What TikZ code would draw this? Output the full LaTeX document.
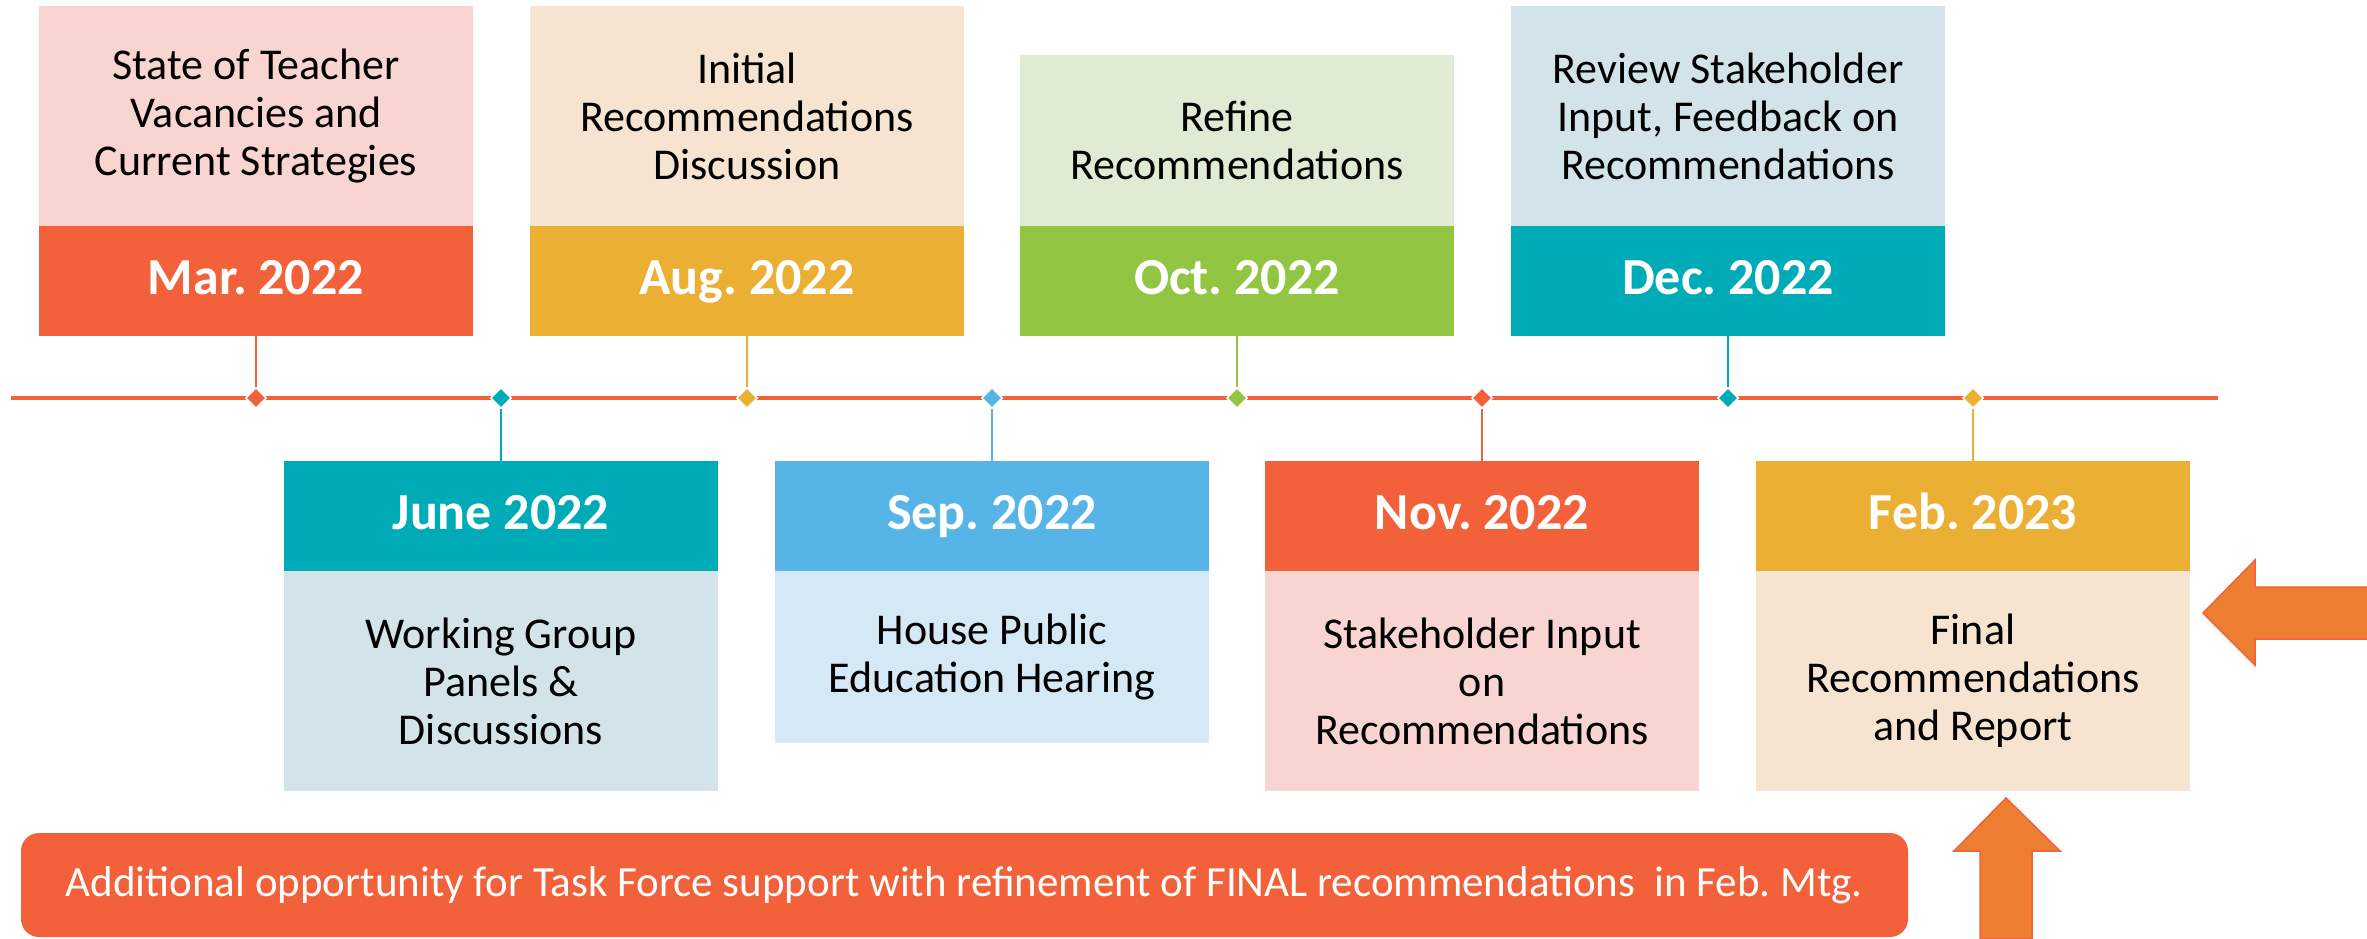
\documentclass[tikz,border=0pt]{standalone}
\usepackage{fontspec}
\setmainfont{Carlito}
\usetikzlibrary{shapes.geometric}
\frenchspacing
\definecolor{cRed}{HTML}{F26139}
\definecolor{cRedL}{HTML}{F8D5D1}
\definecolor{cYel}{HTML}{EBAF33}
\definecolor{cYelL}{HTML}{F7E4D0}
\definecolor{cGrn}{HTML}{92C642}
\definecolor{cGrnL}{HTML}{DFEBD2}
\definecolor{cTeal}{HTML}{00ABB8}
\definecolor{cTealL}{HTML}{D2E4EA}
\definecolor{cBlue}{HTML}{56B4E6}
\definecolor{cBlueL}{HTML}{D5E8F5}
\definecolor{cArrow}{HTML}{ED7D31}
\newcommand{\bodyfnt}{\fontsize{44}{48}\selectfont\frenchspacing}
\newcommand{\datefnt}{\fontsize{52}{56}\selectfont\bfseries\frenchspacing}
\newcommand{\bannerfnt}{\fontsize{43}{48}\selectfont\frenchspacing}
\begin{document}
\begin{tikzpicture}[x=1pt,y=-1pt,
  datebox/.style={minimum width=434, minimum height=110, inner sep=0, font=\datefnt, text=white, text height=33, text depth=6},
  textbox/.style={minimum width=434, inner sep=0, font=\bodyfnt, align=center, text=black},
  dmd/.style={diamond, minimum width=21, minimum height=21, inner sep=0, draw=white, line width=1.5},
  conn/.style={line width=1.5},
  bigarrow/.style={fill=cArrow, draw=cRed, line width=1.5}]
\useasboundingbox (0,0) rectangle (2367,938);
% timeline
\coordinate (tlL) at (11,398);
\coordinate (tlR) at (2218,398);
\draw[cRed, line width=3.5] (tlL) -- (tlR);
% top boxes
\node[datebox, fill=cRed] (marD) at (256,281) {Mar. 2022};
\node[textbox, fill=cRedL, minimum height=220] (marT) at (256,116) {State of Teacher\\Vacancies and\\Current Strategies};
\node[datebox, fill=cYel] (augD) at (747,281) {Aug. 2022};
\node[textbox, fill=cYelL, minimum height=220] (augT) at (747,116) {Initial\\Recommendations\\Discussion};
\node[datebox, fill=cGrn] (octD) at (1237,281) {Oct. 2022};
\node[textbox, fill=cGrnL, minimum height=171] (octT) at (1237,140.5) {Refine\\Recommendations};
\node[datebox, fill=cTeal] (decD) at (1728,281) {Dec. 2022};
\node[textbox, fill=cTealL, minimum height=220] (decT) at (1728,116) {Review Stakeholder\\Input, Feedback on\\Recommendations};
% bottom boxes
\node[datebox, fill=cTeal] (junD) at (501,516) {June 2022};
\node[textbox, fill=cTealL, minimum height=220] (junT) at (501,681) {Working Group\\Panels \&\\Discussions};
\node[datebox, fill=cBlue] (sepD) at (992,516) {Sep. 2022};
\node[textbox, fill=cBlueL, minimum height=172] (sepT) at (992,657) {House Public\\Education Hearing};
\node[datebox, fill=cRed] (novD) at (1482,516) {Nov. 2022};
\node[textbox, fill=cRedL, minimum height=220] (novT) at (1482,681) {Stakeholder Input\\on\\Recommendations};
\node[datebox, fill=cYel] (febD) at (1973,516) {Feb. 2023};
\node[textbox, fill=cYelL, minimum height=220] (febT) at (1973,681) {Final\\Recommendations\\and Report};
% diamonds
\node[dmd, fill=cRed] (d1) at (256,398) {};
\node[dmd, fill=cTeal] (d2) at (501,398) {};
\node[dmd, fill=cYel] (d3) at (747,398) {};
\node[dmd, fill=cBlue] (d4) at (992,398) {};
\node[dmd, fill=cGrn] (d5) at (1237,398) {};
\node[dmd, fill=cRed] (d6) at (1482,398) {};
\node[dmd, fill=cTeal] (d7) at (1728,398) {};
\node[dmd, fill=cYel] (d8) at (1973,398) {};
% connectors
\draw[conn, cRed] (marD.south) -- (d1.north);
\draw[conn, cYel] (augD.south) -- (d3.north);
\draw[conn, cGrn] (octD.south) -- (d5.north);
\draw[conn, cTeal] (decD.south) -- (d7.north);
\draw[conn, cTeal] (d2.south) -- (junD.north);
\draw[conn, cBlue] (d4.south) -- (sepD.north);
\draw[conn, cRed] (d6.south) -- (novD.north);
\draw[conn, cYel] (d8.south) -- (febD.north);
% banner
\node[fill=cRed, rounded corners=18, minimum width=1887, minimum height=104, inner sep=0, font=\bannerfnt, text=white] (banner) at (964.5,885) {Additional opportunity for Task Force support with refinement of FINAL recommendations\ \ in Feb. Mtg.};
% arrows
\draw[bigarrow] (2203,613) -- (2255,560) -- (2255,587) -- (2368,587) -- (2368,639) -- (2255,639) -- (2255,665) -- cycle;
\draw[bigarrow] (2006,798) -- (2060,851) -- (2032,851) -- (2032,939) -- (1980,939) -- (1980,851) -- (1954,851) -- cycle;
\end{tikzpicture}
\end{document}
